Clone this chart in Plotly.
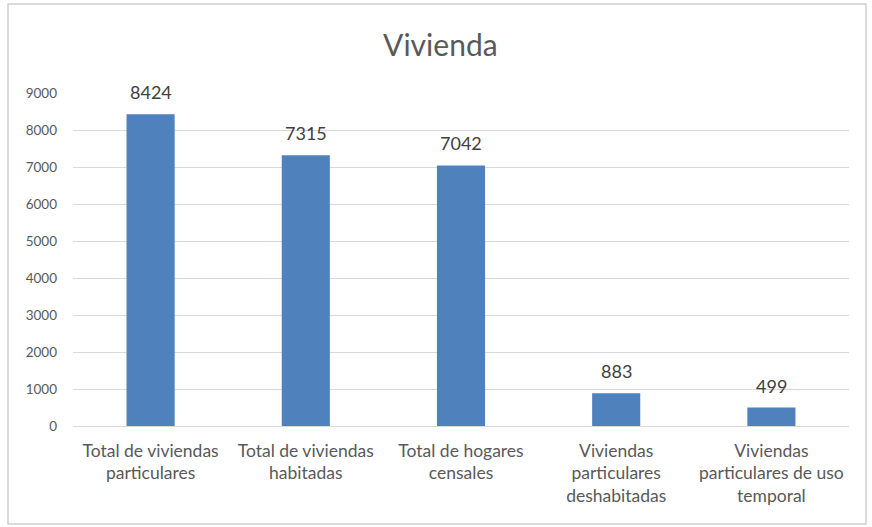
import plotly.graph_objects as go

categories = [
    "Total de viviendas<br>particulares",
    "Total de viviendas<br>habitadas",
    "Total de hogares<br>censales",
    "Viviendas<br>particulares<br>deshabitadas",
    "Viviendas<br>particulares de uso<br>temporal",
]
values = [8424, 7315, 7042, 883, 499]
y_ticks = [0, 1000, 2000, 3000, 4000, 5000, 6000, 7000, 8000, 9000]

FONT = "Lato, 'Open Sans', sans-serif"
W, H = 872, 527
L, R, T, B = 73, 23, 93, 101

fig = go.Figure()
fig.add_trace(go.Bar(
    x=categories, y=values,
    marker=dict(color="#4F81BD", line=dict(width=0)),
    hoverinfo="x+y",
))

for c, v in zip(categories, values):
    fig.add_annotation(x=c, y=v, text=str(v), showarrow=False, yshift=22,
                       font=dict(family=FONT, size=18, color="#404040"))

fig.update_layout(
    width=W, height=H,
    margin=dict(l=L, r=R, t=T, b=B),
    paper_bgcolor="white", plot_bgcolor="white",
    bargap=0.69,
    showlegend=False,
    title=dict(text="Vivienda", x=0.505, xanchor="center", y=1 - 45 / H, yanchor="middle",
               yref="container", font=dict(family=FONT, size=30, color="#595959")),
    font=dict(family=FONT, color="#595959"),
    xaxis=dict(showgrid=False, showline=False, ticks="", tickfont=dict(size=17.5, color="#595959"),
               ticklabelstandoff=12),
    yaxis=dict(range=[0, 9000], tickvals=y_ticks, showgrid=True, gridcolor="#d9d9d9", gridwidth=1,
               zeroline=True, zerolinecolor="#d9d9d9", zerolinewidth=1,
               tickfont=dict(size=13.5, color="#595959"), ticklabelstandoff=15, showline=False),
    shapes=[dict(type="rect", xref="paper", yref="paper",
                 xsizemode="pixel", ysizemode="pixel", xanchor=0, yanchor=0,
                 x0=8 - L, x1=866 - L, y0=-(524 - (H - B)), y1=(H - B) - 4,
                 line=dict(color="#cfcfcf", width=1.5), fillcolor="rgba(0,0,0,0)", layer="below")],
)

fig.write_html("out.html", config={"displayModeBar": False},
               post_script="document.body.style.margin='0';document.body.style.overflow='hidden';")
